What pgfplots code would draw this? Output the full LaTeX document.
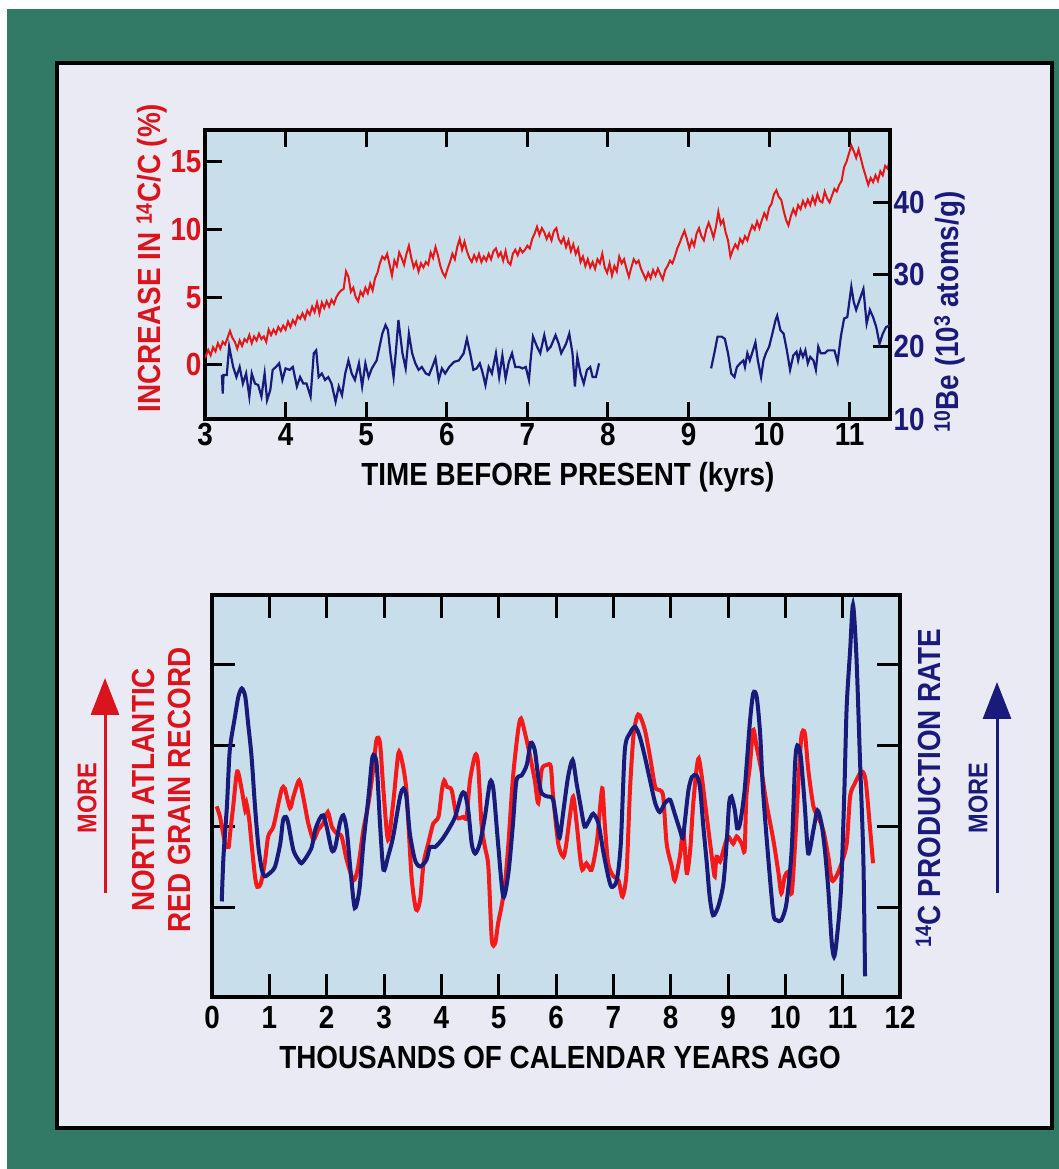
\documentclass[border=0pt]{standalone}
\usepackage{pgfplots}
\pgfplotsset{compat=1.18}
\usepackage{fontspec}
\setmainfont{Liberation Sans}[FakeStretch=0.87]
\usetikzlibrary{arrows.meta}
\definecolor{bggreen}{RGB}{50,122,102}
\definecolor{panel}{RGB}{234,234,244}
\definecolor{plotbg}{RGB}{200,222,235}
\definecolor{cred}{RGB}{228,22,22}
\definecolor{bred}{RGB}{245,25,25}
\definecolor{lred}{RGB}{218,20,28}
\definecolor{navy}{RGB}{26,26,122}
\newcommand{\lbl}{\bfseries\fontsize{32}{36}\selectfont}
\newcommand{\smlbl}{\bfseries\fontsize{27}{30}\selectfont}
\begin{document}
\begin{tikzpicture}
\path[use as bounding box] (0,0) rectangle (1059pt,1169pt);
\fill[white] (0,0) rectangle (1059pt,1169pt);
\fill[bggreen] (7pt,0) rectangle (1059pt,1160pt);
\filldraw[fill=panel, draw=black, line width=4.5pt] (57pt,41pt) rectangle (1052pt,1106pt);

% ---------------- top plot, left axis (14C) ----------------
\begin{axis}[
  at={(205pt,750pt)}, anchor=south west, scale only axis,
  width=685pt, height=289pt,
  xmin=3, xmax=11.5, ymin=-4, ymax=17.35,
  xtick={3,...,11}, ytick={0,5,10,15},
  ytick pos=left,
  axis background/.style={fill=plotbg},
  axis line style={line width=4pt},
  major tick length=17pt,
  tick style={black, line width=3pt},
  tick align=inside,
  ticklabel style={font=\lbl},
  yticklabel style={lred},
  xticklabel style={yshift=-1pt},
  /pgf/number format/assume math mode=true,
]
\addplot[cred, line width=2pt] coordinates {
(3.00,0.5) (3.04,1.1) (3.07,0.7) (3.10,1.3) (3.13,1.0) (3.16,1.6) (3.19,1.2) (3.22,1.7) (3.25,1.5) (3.28,2.0)
(3.31,2.5) (3.34,2.0) (3.37,1.7) (3.40,1.2) (3.43,1.8) (3.46,1.4) (3.49,1.9) (3.52,1.7) (3.55,2.2) (3.58,1.6)
(3.61,2.1) (3.64,1.8) (3.67,2.3) (3.70,1.9) (3.73,2.1) (3.76,1.7) (3.79,2.6) (3.82,2.2) (3.85,2.6) (3.88,2.3)
(3.91,2.8) (3.94,2.5) (3.97,2.9) (4.00,2.6) (4.03,3.2) (4.06,2.8) (4.09,3.3) (4.12,3.0) (4.15,3.6) (4.18,3.4)
(4.21,3.8) (4.24,3.4) (4.27,4.0) (4.30,3.7) (4.33,4.3) (4.36,3.9) (4.39,4.6) (4.42,3.8) (4.45,4.6) (4.48,4.2)
(4.51,4.7) (4.54,4.3) (4.57,4.8) (4.60,4.5) (4.63,5.0) (4.66,5.3) (4.69,5.5) (4.72,5.6) (4.75,6.9) (4.78,6.5)
(4.81,5.4) (4.84,5.7) (4.87,5.0) (4.90,4.7) (4.93,5.4) (4.96,5.1) (4.99,5.7) (5.02,5.3) (5.05,6.0) (5.08,5.5)
(5.11,6.4) (5.14,6.8) (5.17,7.5) (5.20,8.0) (5.23,7.8) (5.26,8.2) (5.29,7.4) (5.32,6.6) (5.35,7.7) (5.38,7.3)
(5.41,8.3) (5.44,7.9) (5.47,7.4) (5.50,8.2) (5.53,8.8) (5.56,7.9) (5.59,7.2) (5.62,7.6) (5.65,6.9) (5.68,7.5)
(5.71,7.2) (5.74,7.6) (5.77,7.4) (5.80,8.3) (5.83,7.9) (5.86,8.7) (5.89,8.1) (5.92,7.3) (5.95,6.8) (5.98,6.5)
(6.01,7.1) (6.04,7.6) (6.07,8.2) (6.10,7.8) (6.13,8.7) (6.16,9.3) (6.19,8.5) (6.22,9.1) (6.25,8.4) (6.28,7.9)
(6.31,7.6) (6.34,8.1) (6.37,7.7) (6.40,8.2) (6.43,7.6) (6.46,8.0) (6.49,7.7) (6.52,8.2) (6.55,7.8) (6.58,8.4)
(6.61,8.6) (6.64,8.0) (6.67,8.3) (6.70,7.7) (6.73,8.4) (6.76,7.6) (6.79,7.4) (6.82,8.2) (6.85,8.5) (6.88,8.1)
(6.91,8.6) (6.94,8.3) (6.97,8.5) (7.00,8.8) (7.03,8.6) (7.06,9.3) (7.09,9.7) (7.12,10.2) (7.15,9.6) (7.18,10.1)
(7.21,9.8) (7.24,9.3) (7.27,9.7) (7.30,9.2) (7.33,9.9) (7.36,10.1) (7.39,9.3) (7.42,9.0) (7.45,9.4) (7.48,8.7)
(7.51,9.2) (7.54,8.4) (7.57,8.9) (7.60,8.2) (7.63,8.6) (7.66,7.6) (7.69,8.0) (7.72,7.3) (7.75,7.8) (7.78,7.2)
(7.81,7.6) (7.84,7.1) (7.87,7.8) (7.90,7.5) (7.93,8.2) (7.96,7.2) (7.99,6.8) (8.02,7.5) (8.05,6.6) (8.08,7.3)
(8.11,6.9) (8.14,8.0) (8.17,7.5) (8.20,7.8) (8.23,7.1) (8.26,6.5) (8.29,7.2) (8.32,7.8) (8.35,7.5) (8.38,7.7)
(8.41,7.1) (8.44,6.7) (8.47,6.3) (8.50,6.8) (8.53,6.4) (8.56,7.0) (8.59,6.6) (8.62,7.1) (8.65,6.7) (8.68,6.3)
(8.71,7.0) (8.74,7.3) (8.77,7.7) (8.80,7.5) (8.83,8.0) (8.86,8.6) (8.89,9.0) (8.92,9.5) (8.95,9.9) (8.98,9.3)
(9.01,8.6) (9.04,9.2) (9.07,8.8) (9.10,9.7) (9.13,10.1) (9.16,9.5) (9.19,9.2) (9.22,10.0) (9.25,10.5) (9.28,10.0)
(9.31,9.4) (9.34,10.2) (9.37,11.3) (9.40,10.4) (9.43,10.7) (9.46,9.8) (9.49,9.2) (9.52,8.0) (9.55,8.5) (9.58,8.9)
(9.61,8.6) (9.64,9.3) (9.67,9.0) (9.70,9.5) (9.73,9.2) (9.76,9.8) (9.79,10.3) (9.82,10.0) (9.85,10.6) (9.88,10.1)
(9.91,10.7) (9.94,11.2) (9.97,10.8) (10.00,11.6) (10.03,11.9) (10.06,12.6) (10.09,12.9) (10.12,12.4) (10.15,12.2) (10.18,11.4)
(10.21,10.7) (10.24,10.3) (10.27,11.0) (10.30,11.5) (10.33,11.1) (10.36,11.8) (10.39,11.5) (10.42,12.1) (10.45,11.7) (10.48,12.2)
(10.51,11.8) (10.54,12.4) (10.57,11.9) (10.60,12.6) (10.63,12.1) (10.66,12.0) (10.69,12.8) (10.72,12.3) (10.75,12.0) (10.78,12.5)
(10.81,13.0) (10.84,12.8) (10.87,13.3) (10.90,13.6) (10.93,14.6) (10.96,15.0) (10.99,15.6) (11.02,16.2) (11.05,15.8) (11.08,15.3)
(11.11,15.9) (11.14,15.2) (11.17,14.5) (11.20,13.9) (11.23,13.3) (11.26,13.8) (11.29,13.5) (11.32,14.0) (11.35,13.6) (11.38,14.3)
(11.41,14.0) (11.44,14.7) (11.47,14.5) (11.50,15.2)
};
\end{axis}

% ---------------- top plot, right axis (10Be) ----------------
\begin{axis}[
  at={(205pt,750pt)}, anchor=south west, scale only axis,
  width=685pt, height=289pt,
  xmin=3, xmax=11.5, ymin=10, ymax=50,
  axis x line=none, axis y line*=right,
  ytick={10,20,30,40},
  axis line style={line width=4pt, -},
  major tick length=17pt,
  tick style={black, line width=3pt},
  tick align=inside,
  ticklabel style={font=\lbl},
  yticklabel style={navy},
  /pgf/number format/assume math mode=true,
]
\addplot[navy, line width=2.2pt] coordinates {
(3.21,16.1) (3.22,13.5) (3.23,16.1) (3.27,16.1) (3.30,20.0) (3.35,17.2) (3.39,15.8) (3.43,17.2) (3.47,14.9) (3.51,16.3)
(3.55,13.1) (3.58,16.3) (3.62,14.9) (3.66,14.7) (3.70,13.1) (3.74,16.3) (3.77,12.6) (3.81,14.0) (3.84,16.8) (3.88,17.2)
(3.92,17.7) (3.96,15.4) (4.00,17.0) (4.05,16.8) (4.09,17.2) (4.14,14.5) (4.18,15.8) (4.22,14.9) (4.26,14.9) (4.31,13.1)
(4.35,19.1) (4.38,19.5) (4.41,15.8) (4.45,16.3) (4.49,15.4) (4.53,15.8) (4.57,14.9) (4.62,12.4) (4.66,14.5) (4.70,13.3)
(4.74,16.3) (4.78,18.1) (4.82,16.3) (4.86,15.4) (4.91,17.7) (4.95,14.5) (4.99,17.7) (5.03,15.8) (5.07,17.0) (5.13,18.1)
(5.20,21.8) (5.24,23.0) (5.27,22.3) (5.30,19.1) (5.34,15.8) (5.37,19.5) (5.40,23.7) (5.45,19.1) (5.49,17.0) (5.53,21.8)
(5.57,19.1) (5.61,17.7) (5.65,16.8) (5.69,17.2) (5.74,16.3) (5.78,16.1) (5.82,17.2) (5.86,18.4) (5.90,15.4) (5.94,17.0)
(5.98,16.3) (6.03,17.2) (6.09,17.9) (6.15,18.1) (6.21,19.1) (6.25,21.1) (6.29,19.1) (6.33,16.8) (6.37,17.0) (6.41,17.7)
(6.44,16.6) (6.48,14.7) (6.52,17.2) (6.56,16.3) (6.61,19.1) (6.65,15.8) (6.69,18.8) (6.73,15.6) (6.77,17.9) (6.81,19.1)
(6.85,17.2) (6.90,17.2) (6.94,17.0) (6.98,17.2) (7.02,15.4) (7.04,18.1) (7.07,21.4) (7.12,20.0) (7.16,19.1) (7.21,21.6)
(7.25,19.5) (7.29,20.0) (7.35,21.6) (7.39,20.4) (7.42,19.1) (7.48,20.4) (7.52,21.8) (7.56,19.1) (7.59,14.5) (7.62,18.6)
(7.66,16.3) (7.70,14.9) (7.74,16.8) (7.78,17.2) (7.81,15.8) (7.85,15.8) (7.89,17.7)
};
\addplot[navy, line width=2.2pt] coordinates {
(9.28,17.0) (9.32,19.1) (9.36,21.4) (9.41,21.4) (9.45,21.1) (9.49,19.1) (9.53,16.3) (9.57,15.8) (9.60,17.2) (9.64,17.7)
(9.68,18.1) (9.70,17.2) (9.73,19.1) (9.76,18.1) (9.80,19.5) (9.83,20.6) (9.86,18.1) (9.90,15.8) (9.93,18.1) (9.96,19.1)
(10.00,20.0) (10.04,21.8) (10.08,23.7) (10.10,24.3) (10.14,22.3) (10.18,21.8) (10.22,19.5) (10.26,16.8) (10.30,18.8) (10.34,19.3)
(10.36,18.1) (10.39,19.5) (10.42,18.6) (10.45,19.5) (10.48,17.7) (10.51,18.6) (10.55,18.1) (10.58,16.8) (10.61,20.0) (10.64,19.1)
(10.69,19.1) (10.73,19.5) (10.77,19.5) (10.81,19.5) (10.85,17.9) (10.89,21.4) (10.93,23.9) (10.97,24.1) (11.02,28.3) (11.05,26.2)
(11.08,25.1) (11.12,26.4) (11.17,28.0) (11.21,23.2) (11.25,25.1) (11.29,24.1) (11.33,22.7) (11.37,20.4) (11.41,21.8) (11.45,22.7)
(11.50,23.0)
};
\end{axis}

% ---------------- bottom plot ----------------
\begin{axis}[
  at={(212pt,172pt)}, anchor=south west, scale only axis,
  width=688pt, height=402pt,
  xmin=0, xmax=12, ymin=-0.095, ymax=4.85,
  xtick={0,...,12}, ytick={1,2,3,4}, yticklabels={},
  axis background/.style={fill=plotbg},
  axis line style={line width=4pt},
  major tick length=23pt,
  tick style={black, line width=3pt},
  tick align=inside,
  ticklabel style={font=\lbl},
  xticklabel style={yshift=-6pt},
  /pgf/number format/assume math mode=true,
]
\addplot[bred, line width=4pt, smooth, tension=0.45] coordinates {
(0.08,2.25) (0.14,2.12) (0.23,1.79) (0.29,1.75) (0.31,1.88) (0.37,2.25) (0.44,2.68) (0.52,2.45) (0.58,2.20) (0.60,2.29)
(0.65,2.08) (0.69,1.79) (0.75,1.39) (0.79,1.26) (0.85,1.30) (0.92,1.55) (0.98,1.88) (1.07,2.00) (1.16,2.29) (1.22,2.47)
(1.27,2.47) (1.36,2.23) (1.42,2.37) (1.52,2.57) (1.59,2.37) (1.68,2.04) (1.77,1.84) (1.85,1.96) (1.94,2.04) (2.02,2.18)
(2.09,2.00) (2.17,1.92) (2.26,1.88) (2.35,1.59) (2.47,1.34) (2.55,1.51) (2.64,1.96) (2.73,2.29) (2.81,2.70) (2.87,3.07)
(2.93,3.03) (2.99,2.45) (3.07,1.84) (3.16,2.29) (3.25,2.90) (3.31,2.82) (3.39,2.45) (3.48,1.39) (3.56,0.98) (3.63,1.10)
(3.69,1.55) (3.77,1.79) (3.86,2.04) (3.95,2.12) (4.01,2.45) (4.05,2.57) (4.10,2.49) (4.18,2.45) (4.27,2.12) (4.38,2.12)
(4.44,2.12) (4.50,2.57) (4.59,2.88) (4.64,2.78) (4.70,2.04) (4.76,1.75) (4.82,1.51) (4.88,0.61) (4.94,0.57) (4.99,0.81)
(5.05,1.02) (5.11,1.30) (5.17,1.79) (5.25,2.61) (5.34,3.19) (5.39,3.33) (5.46,3.15) (5.55,2.86) (5.63,2.57) (5.69,2.29)
(5.75,2.70) (5.84,2.76) (5.91,2.74) (5.95,2.37) (6.04,1.79) (6.13,1.63) (6.18,1.79) (6.24,2.12) (6.30,2.37) (6.36,2.04)
(6.42,1.63) (6.46,1.47) (6.53,1.55) (6.62,1.47) (6.71,1.79) (6.77,2.25) (6.81,2.47) (6.85,2.04) (6.91,1.55) (7.00,1.39)
(7.09,1.34) (7.16,1.14) (7.23,1.43) (7.29,2.45) (7.35,3.11) (7.41,3.35) (7.46,3.37) (7.55,3.19) (7.64,2.86) (7.73,2.49)
(7.81,2.45) (7.87,2.37) (7.93,1.79) (8.02,1.51) (8.07,1.34) (8.16,1.63) (8.22,1.96) (8.28,1.43) (8.34,1.71) (8.39,2.25)
(8.45,2.70) (8.49,2.84) (8.54,2.63) (8.60,2.29) (8.68,1.84) (8.74,1.51) (8.77,1.39) (8.80,1.63) (8.86,1.57) (8.92,1.71)
(9.00,1.88) (9.09,1.79) (9.15,1.88) (9.24,1.79) (9.29,1.71) (9.32,2.37) (9.38,2.74) (9.44,3.19) (9.50,2.98) (9.59,2.66)
(9.67,2.29) (9.79,1.84) (9.88,1.43) (9.93,1.18) (9.99,1.39) (10.05,1.43) (10.11,1.18) (10.17,1.79) (10.22,2.45) (10.28,3.11)
(10.34,3.15) (10.40,2.70) (10.49,2.25) (10.57,2.12) (10.66,1.96) (10.75,1.63) (10.81,1.34) (10.89,1.39) (10.98,1.55) (11.07,1.79)
(11.13,2.37) (11.21,2.53) (11.33,2.68) (11.40,2.57) (11.47,2.04) (11.53,1.55)
};
\addplot[navy, line width=4pt, smooth, tension=0.45] coordinates {
(0.17,1.08) (0.20,1.63) (0.26,2.25) (0.31,2.94) (0.40,3.35) (0.46,3.60) (0.52,3.70) (0.58,3.60) (0.63,3.27) (0.69,2.86)
(0.75,2.25) (0.81,1.75) (0.87,1.47) (0.92,1.39) (1.01,1.43) (1.10,1.51) (1.19,1.79) (1.24,2.08) (1.29,2.12) (1.33,2.04)
(1.42,1.71) (1.51,1.59) (1.56,1.55) (1.65,1.63) (1.74,1.75) (1.80,1.96) (1.88,2.10) (1.94,2.14) (2.00,2.00) (2.09,1.71)
(2.15,1.75) (2.23,2.04) (2.29,2.14) (2.35,1.96) (2.42,1.43) (2.49,1.00) (2.57,1.22) (2.64,1.79) (2.73,2.37) (2.80,2.86)
(2.87,2.78) (2.93,2.04) (2.99,1.47) (3.07,1.63) (3.16,1.88) (3.28,2.37) (3.34,2.47) (3.39,2.37) (3.45,1.92) (3.54,1.59)
(3.63,1.51) (3.74,1.59) (3.80,1.75) (3.89,1.75) (4.01,1.84) (4.12,1.96) (4.24,2.12) (4.35,2.39) (4.41,2.41) (4.47,2.20)
(4.53,1.79) (4.59,1.67) (4.67,1.79) (4.76,2.12) (4.85,2.55) (4.91,2.45) (4.99,1.79) (5.08,1.14) (5.17,1.43) (5.25,2.04)
(5.31,2.57) (5.40,2.63) (5.49,2.76) (5.56,3.03) (5.63,2.94) (5.69,2.61) (5.75,2.41) (5.86,2.37) (5.95,2.33) (6.04,1.92)
(6.07,1.88) (6.13,2.20) (6.21,2.61) (6.29,2.82) (6.36,2.53) (6.43,2.25) (6.50,2.00) (6.58,2.08) (6.65,2.16) (6.74,2.04)
(6.82,1.71) (6.91,1.39) (6.97,1.26) (7.06,1.34) (7.13,1.79) (7.20,2.94) (7.29,3.15) (7.38,3.23) (7.46,3.11) (7.55,2.86)
(7.64,2.57) (7.73,2.29) (7.81,2.18) (7.90,2.29) (7.99,2.33) (8.07,2.16) (8.16,1.96) (8.21,1.86) (8.25,2.08) (8.31,2.45)
(8.37,2.61) (8.45,2.63) (8.51,2.49) (8.57,2.00) (8.63,1.55) (8.68,1.14) (8.74,0.91) (8.83,1.02) (8.92,1.30) (8.98,1.84)
(9.02,2.29) (9.06,2.37) (9.12,2.20) (9.16,1.98) (9.21,2.04) (9.29,2.45) (9.38,3.27) (9.44,3.64) (9.50,3.60) (9.56,3.15)
(9.61,2.45) (9.70,1.63) (9.79,0.93) (9.85,0.85) (9.93,0.85) (10.02,1.06) (10.11,1.71) (10.17,2.78) (10.21,3.00) (10.27,2.86)
(10.34,2.25) (10.40,1.67) (10.49,1.96) (10.56,2.20) (10.63,2.04) (10.69,1.71) (10.75,1.22) (10.81,0.57) (10.85,0.40) (10.89,0.57)
(10.97,1.22) (11.03,2.45) (11.07,3.48) (11.13,4.17) (11.18,4.73) (11.24,4.09) (11.30,2.86) (11.36,1.63) (11.39,0.16)
};
\end{axis}

% ---------------- labels ----------------
\node[font=\lbl, anchor=center] at (568pt,692pt) {TIME BEFORE PRESENT (kyrs)};
\node[font=\lbl, lred, rotate=90, anchor=center] at (152pt,911pt) {INCREASE IN \textsuperscript{14}C/C (\%)};
\node[font=\lbl, navy, rotate=90, anchor=center] at (950pt,857pt) {\textsuperscript{10}Be (10\textsuperscript{3} atoms/g)};
\node[font=\lbl, anchor=center] at (560pt,112pt) {THOUSANDS OF CALENDAR YEARS AGO};
\node[font=\lbl, lred, rotate=90, anchor=center, align=center] at (161pt,379pt) {NORTH ATLANTIC\\RED GRAIN RECORD};
\node[font=\smlbl, lred, rotate=90, anchor=center] at (87pt,371pt) {MORE};
\draw[lred, line width=3pt, -{Triangle[length=37pt,width=28pt]}] (105pt,276pt) -- (105pt,491pt);
\node[font=\lbl, navy, rotate=90, anchor=center] at (928pt,381pt) {\textsuperscript{14}C PRODUCTION RATE};
\node[font=\smlbl, navy, rotate=90, anchor=center] at (978pt,371pt) {MORE};
\draw[navy, line width=3pt, -{Triangle[length=37pt,width=28pt]}] (997pt,276pt) -- (997pt,487pt);
\end{tikzpicture}
\end{document}
